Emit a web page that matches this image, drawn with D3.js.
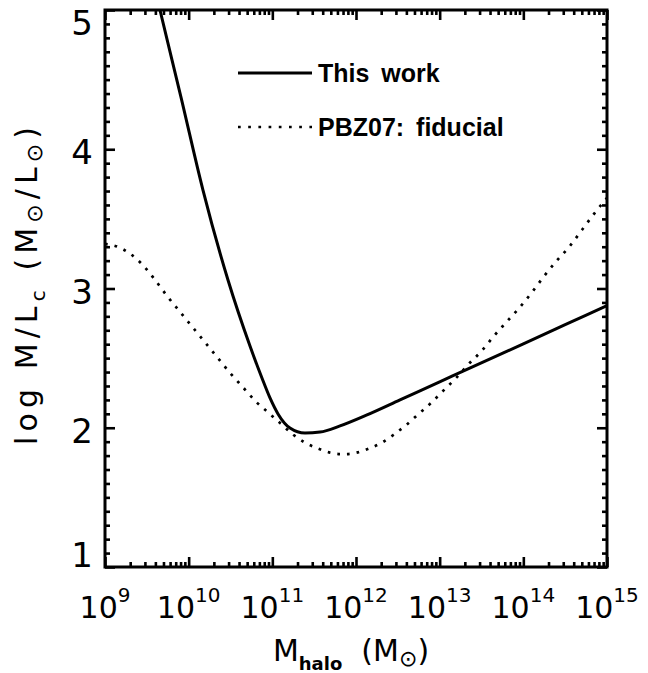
<!DOCTYPE html>
<html>
<head>
<meta charset="utf-8">
<script src="https://cdn.jsdelivr.net/npm/d3@7"></script>
<style>
  body { margin: 0; background: #fff; }
  svg { display: block; }
</style>
</head>
<body>
<svg id="chart" width="648" height="673"></svg>
<script>
// Axis ranges and tick labels
const xDomain = [1e9, 1e15];
const yDomain = [1, 5];
const xTickExponents = [9, 10, 11, 12, 13, 14, 15];
const yTickLabels = [1, 2, 3, 4, 5];

// This work: log10(M_halo / Msun) and log10(M / L_c)
const thisWorkLogM = [9.598, 9.657, 9.908, 10.171, 10.470, 10.733, 10.876, 10.972, 11.068, 11.211,
                      11.390, 11.570, 11.809, 12.131, 12.526, 13.0, 13.28, 14.0, 14.5, 15.0];
const thisWorkLogML = [5.151, 5.000, 4.375, 3.707, 3.061, 2.587, 2.357, 2.214, 2.099, 1.998,
                       1.962, 1.969, 2.013, 2.092, 2.200, 2.330, 2.406, 2.603, 2.740, 2.877];

// PBZ07 fiducial model
const pbzLogM = [9.00, 9.15, 9.30, 9.45, 9.60, 9.75, 9.90, 10.05, 10.20, 10.35, 10.50, 10.65, 10.80,
                 10.95, 11.10, 11.25, 11.40, 11.55, 11.70, 11.85, 12.00, 12.15, 12.30, 12.45, 12.60,
                 12.75, 12.90, 13.05, 13.20, 13.35, 13.50, 13.65, 13.80, 13.95, 14.10, 14.25, 14.40,
                 14.55, 14.70, 14.85, 15.00];
const pbzLogML = [3.32, 3.30, 3.25, 3.17, 3.06, 2.94, 2.83, 2.72, 2.61, 2.50, 2.39, 2.29, 2.19,
                  2.11, 2.03, 1.95, 1.89, 1.85, 1.82, 1.81, 1.82, 1.85, 1.89, 1.95, 2.02,
                  2.10, 2.18, 2.27, 2.36, 2.46, 2.55, 2.66, 2.76, 2.86, 2.97, 3.09, 3.20,
                  3.30, 3.42, 3.54, 3.65];

const legendLabels = ["This work", "PBZ07: fiducial"];

const W = 648, H = 673;
const margin = { left: 105, right: 41, top: 10, bottom: 106 };
const plotW = W - margin.left - margin.right;
const plotH = H - margin.top - margin.bottom;

const svg = d3.select("#chart");
const font = "'DejaVu Sans', sans-serif";

const x = d3.scaleLog().domain(xDomain).range([0, plotW]);
const y = d3.scaleLinear().domain(yDomain).range([plotH, 0]);

const g = svg.append("g").attr("transform", `translate(${margin.left},${margin.top})`);

g.append("clipPath").attr("id", "plot-clip")
  .append("rect").attr("width", plotW).attr("height", plotH);

// Tick values
const xMajor = xTickExponents.map(e => Math.pow(10, e));
const xMinor = [];
for (let e = xTickExponents[0]; e < xTickExponents[xTickExponents.length - 1]; e++) {
  for (let m = 2; m <= 9; m++) xMinor.push(m * Math.pow(10, e));
}
const yMajor = yTickLabels.slice();
const yMinor = d3.range(10, 50).map(v => v / 10).filter(v => !Number.isInteger(v));

function styleAxis(sel) {
  sel.select(".domain").remove();
  sel.selectAll(".tick line").attr("stroke", "#000").attr("stroke-width", 2.6);
  sel.selectAll(".tick text").remove();
}

// Inward ticks on all four sides
const axes = [
  [d3.axisBottom(x), `translate(0,${plotH})`, xMajor, xMinor],
  [d3.axisTop(x), `translate(0,0)`, xMajor, xMinor],
  [d3.axisLeft(y), `translate(0,0)`, yMajor, yMinor],
  [d3.axisRight(y), `translate(${plotW},0)`, yMajor, yMinor]
];
axes.forEach(([axis, tr, major, minor]) => {
  g.append("g").attr("transform", tr)
    .call(axis.tickValues(major).tickSize(-10).tickFormat(""))
    .call(styleAxis);
  g.append("g").attr("transform", tr)
    .call(axis.tickValues(minor).tickSize(-5).tickFormat(""))
    .call(styleAxis);
});

// Frame
g.append("rect")
  .attr("width", plotW).attr("height", plotH)
  .attr("fill", "none").attr("stroke", "#000").attr("stroke-width", 3);

// X tick labels: 10^n
xTickExponents.forEach(e => {
  const t = g.append("text")
    .attr("x", x(Math.pow(10, e)))
    .attr("y", plotH + 51)
    .attr("text-anchor", "middle")
    .attr("font-family", font)
    .attr("font-size", 30)
    .attr("fill", "#000");
  t.append("tspan").text("10");
  t.append("tspan").attr("dy", -16).attr("font-size", 20).text(String(e));
});

// Y tick labels
yTickLabels.forEach(v => {
  let dy = 15;
  if (v === yDomain[1]) dy = 25;
  if (v === yDomain[0]) dy = 0;
  g.append("text")
    .attr("x", -12)
    .attr("y", y(v) + dy)
    .attr("text-anchor", "end")
    .attr("font-family", font)
    .attr("font-size", 34)
    .attr("fill", "#000")
    .text(v);
});

// Curves
const line = d3.line()
  .x(d => x(Math.pow(10, d[0])))
  .y(d => y(d[1]))
  .curve(d3.curveMonotoneX);

const thisWork = thisWorkLogM.map((m, i) => [m, thisWorkLogML[i]]);
const pbz = pbzLogM.map((m, i) => [m, pbzLogML[i]]);

const curves = g.append("g").attr("clip-path", "url(#plot-clip)");
curves.append("path")
  .datum(thisWork)
  .attr("d", line)
  .attr("fill", "none")
  .attr("stroke", "#000")
  .attr("stroke-width", 3);
curves.append("path")
  .datum(pbz)
  .attr("d", line)
  .attr("fill", "none")
  .attr("stroke", "#000")
  .attr("stroke-width", 2.7)
  .attr("stroke-dasharray", "2.7 7");

// Legend
const legend = g.append("g");
const legendRows = [
  { label: legendLabels[0], dash: null, y: 63 },
  { label: legendLabels[1], dash: "2.7 7.5", y: 117 }
];
legendRows.forEach(r => {
  legend.append("line")
    .attr("x1", 133).attr("x2", 207)
    .attr("y1", r.y).attr("y2", r.y)
    .attr("stroke", "#000")
    .attr("stroke-width", r.dash ? 2.7 : 3)
    .attr("stroke-dasharray", r.dash);
  legend.append("text")
    .attr("x", 213)
    .attr("y", r.y + 9)
    .attr("font-family", "'Liberation Sans', Arial, sans-serif")
    .attr("font-weight", "bold")
    .attr("font-size", 25)
    .attr("word-spacing", 5)
    .attr("fill", "#000")
    .text(r.label);
});

// X axis title: M_halo (M_sun)
const xt = svg.append("text")
  .attr("x", margin.left + plotW / 2 - 5)
  .attr("y", 661)
  .attr("text-anchor", "middle")
  .attr("font-family", font)
  .attr("font-size", 30)
  .attr("fill", "#000");
xt.append("tspan").text("M");
xt.append("tspan").attr("dy", 9).attr("font-size", 18).attr("font-weight", "bold").text("halo");
xt.append("tspan").attr("dy", -9).text("\u00a0\u00a0(M");
xt.append("tspan").attr("dy", 5).attr("font-size", 22).text("\u2299");
xt.append("tspan").attr("dy", -5).text(")");

// Y axis title: log M/L_c (M_sun/L_sun)
const yt = svg.append("text")
  .attr("transform", "translate(37,286) rotate(-90)")
  .attr("text-anchor", "middle")
  .attr("font-family", font)
  .attr("font-size", 30)
  .attr("fill", "#000")
  .attr("textLength", 318)
  .attr("lengthAdjust", "spacing");
yt.append("tspan").text("log M/L");
yt.append("tspan").attr("dy", 8).attr("font-size", 20).text("c");
yt.append("tspan").attr("dy", -8).text("\u00a0(M");
yt.append("tspan").attr("dy", 5).attr("font-size", 22).text("\u2299");
yt.append("tspan").attr("dy", -5).text("/L");
yt.append("tspan").attr("dy", 5).attr("font-size", 22).text("\u2299");
yt.append("tspan").attr("dy", -5).text(")");
</script>
</body>
</html>
